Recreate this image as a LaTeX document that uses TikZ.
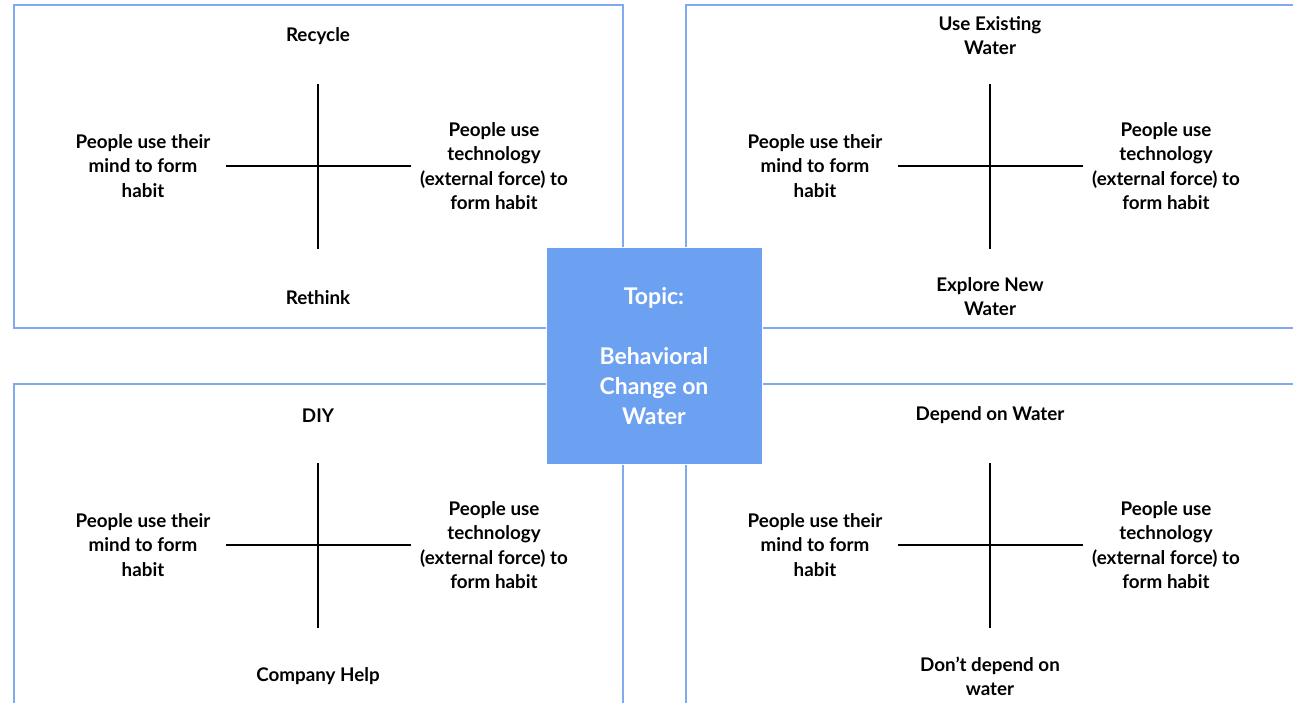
\documentclass[tikz,border=0pt]{standalone}
\usepackage{fontspec}
\setmainfont{Lato}
\definecolor{frameblue}{HTML}{80AAF0}
\definecolor{topicblue}{HTML}{6CA1F1}
\begin{document}
\begin{tikzpicture}[x=1pt,y=-1pt,
  frame/.style={draw=frameblue, line width=1.6pt},
  axisline/.style={draw=black, line width=1.4pt},
  lbl/.style={font=\bfseries\fontsize{18.8}{24.5}\selectfont, align=center, inner sep=0pt, text=black},
  topicbox/.style={fill=topicblue, draw=white, line width=1pt, minimum width=216pt, minimum height=216pt, inner sep=0pt},
  topictext/.style={font=\bfseries\fontsize{23}{30}\selectfont, align=center, text=white, inner sep=0pt}]
\useasboundingbox (0,0) rectangle (1293,703);
\clip (0,0) rectangle (1293,703);
% frames
\draw[frame] (14,5) rectangle (623,328);
\draw[frame] (686,5) rectangle (1320,328);
\draw[frame] (14,384) rectangle (623,730);
\draw[frame] (686,384) rectangle (1320,730);
% quadrant crosses
\foreach \n/\cx/\cy in {tl/318/166, tr/990/166, bl/318/545, br/990/545}{
  \coordinate (\n-t) at (\cx,\cy-82);
  \coordinate (\n-b) at (\cx,\cy+83);
  \coordinate (\n-l) at (\cx-92,\cy);
  \coordinate (\n-r) at (\cx+93,\cy);
  \draw[axisline] (\n-t) -- (\n-b);
  \draw[axisline] (\n-l) -- (\n-r);
  \node[lbl] (\n-left) at (\cx-175,\cy) {People use their\\mind to form\\habit};
  \node[lbl] (\n-right) at (\cx+176,\cy) {People use\\technology\\(external force) to\\form habit};
}
% top/bottom labels
\node[lbl] (tl-top) at (318,36.5) {Recycle};
\node[lbl] (tl-bot) at (318,297.5) {Rethink};
\node[lbl] (tr-top) at (990,35.5) {Use Existing\\Water};
\node[lbl] (tr-bot) at (990,296.5) {Explore New\\Water};
\node[lbl] (bl-top) at (318,415.5) {DIY};
\node[lbl] (bl-bot) at (318,676.5) {Company Help};
\node[lbl] (br-top) at (990,415.5) {Depend on Water};
\node[lbl] (br-bot) at (990,676.5) {Don’t depend on\\water};
% center topic
\node[topicbox] (topic) at (654,356) {};
\node[topictext] (topic-text) at (654,356.5) {Topic:\\[30pt]Behavioral\\Change on\\Water};
\end{tikzpicture}
\end{document}
